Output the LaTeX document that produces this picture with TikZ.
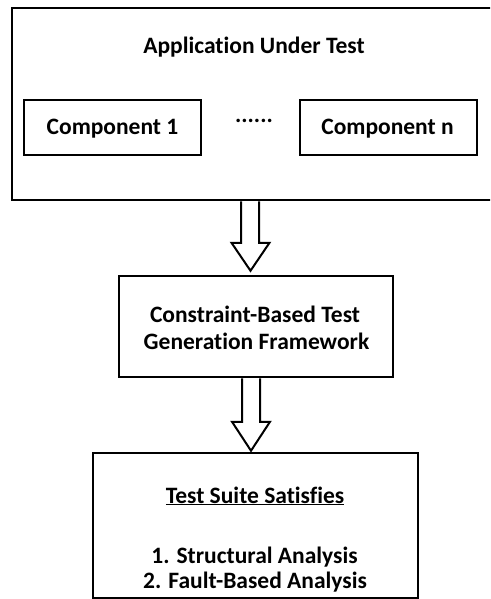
\documentclass[tikz,border=0pt]{standalone}
\usepackage{fontspec}
\setmainfont{Carlito}[Ligatures=NoCommon]
\usetikzlibrary{calc}

\tikzset{
  box/.style={draw, line width=2.5pt, inner sep=0pt},
  lbl/.style={font=\bfseries\fontsize{23.5}{27}\selectfont, inner sep=0pt, anchor=base},
  fatarrow/.style={draw, line width=2pt, line join=miter}
}

\begin{document}
\begin{tikzpicture}[x=1pt,y=-1pt]
    \useasboundingbox (0,0) rectangle (490,599);
    \clip (0,0) rectangle (490,599);

    % Boxes
    \node[box, minimum width=488pt, minimum height=192pt] (aut) at (256,104) {};
    \node[box, minimum width=177pt, minimum height=55pt] (comp1) at (112.5,127.5) {};
    \node[box, minimum width=177pt, minimum height=55pt] (compn) at (388.5,127.5) {};
    \node[box, minimum width=274pt, minimum height=101pt] (gen) at (256,326.5) {};
    \node[box, minimum width=325pt, minimum height=145pt] (suite) at (255.5,525.5) {};

    % Labels
    \node[lbl] (autlbl) at (254,54) {Application Under Test};
    \node[lbl] (comp1lbl) at (112.5,135) {Component 1};
    \node[lbl] (dots) at (254,122) {......};
    \node[lbl] (compnlbl) at (387.5,135) {Component n};
    \node[lbl] (genlbl1) at (255,322) {Constraint-Based Test};
    \node[lbl] (genlbl2) at (256.5,349) {Generation Framework};
    \node[lbl] (suitelbl) at (255,503) {\underline{Test Suite Satisfies}};
    \node[lbl] (item1) at (254.5,563) {1. Structural Analysis};
    \node[lbl] (item2) at (255,588) {2. Fault-Based Analysis};

    % Arrows
    \draw[fatarrow] ($(aut.south)+(-15,0)$) -- ($(gen.north)+(-15,-32)$)
        -- ($(gen.north)+(-24.5,-32)$) -- ($(gen.north)+(-5.5,-4)$)
        -- ($(gen.north)+(13.5,-32)$) -- ($(gen.north)+(3,-32)$)
        -- ($(aut.south)+(3,0)$);
    \draw[fatarrow] ($(gen.south)+(-14,0)$) -- ($(suite.north)+(-13.5,-30)$)
        -- ($(suite.north)+(-23.5,-30)$) -- ($(suite.north)+(-4.5,-1)$)
        -- ($(suite.north)+(14.5,-30)$) -- ($(suite.north)+(4.5,-30)$)
        -- ($(gen.south)+(4,0)$);
\end{tikzpicture}
\end{document}
